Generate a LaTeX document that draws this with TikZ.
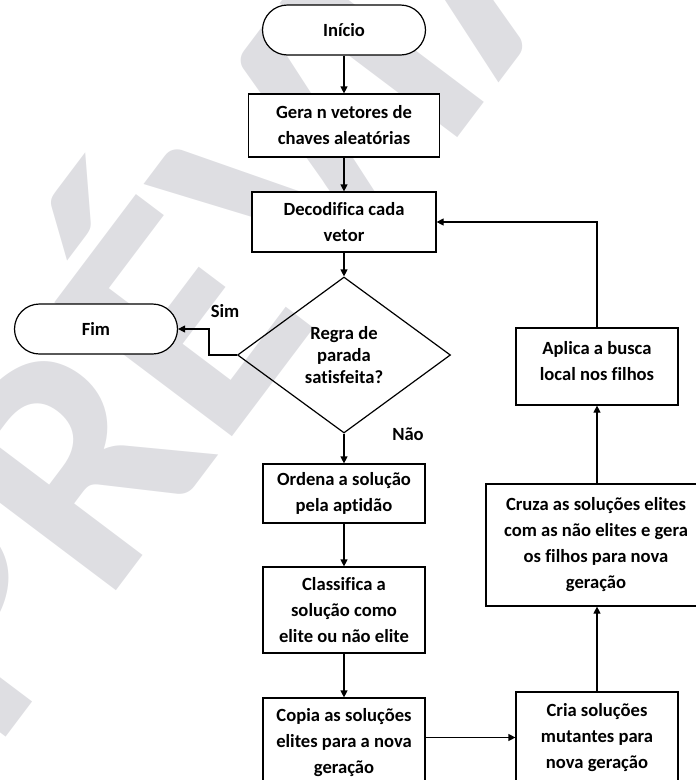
\documentclass[tikz,border=0pt]{standalone}
\usepackage{fontspec}
\setmainfont{Carlito}[Ligatures=NoCommon]
\usepackage{tikz}
\usetikzlibrary{arrows.meta,positioning,shapes.geometric}
\definecolor{marcagua}{RGB}{222,222,226}
\tikzset{font=\bfseries\fontsize{18.6}{26}\selectfont}
\tikzstyle{caixa}=[draw,rectangle,align=center,inner sep=0pt,fill=white]
\tikzstyle{term}=[draw,rectangle,rounded corners=25pt,minimum width=163pt,minimum height=50pt,fill=white]
\tikzstyle{decisao}=[draw,diamond,aspect=1.365,align=center,inner sep=0pt,minimum width=213pt,minimum height=156pt,font=\bfseries\fontsize{18.6}{22}\selectfont]
\tikzstyle{marca}=[rotate=53,anchor=base west,inner sep=0pt,text=marcagua,font=\bfseries\fontsize{343}{343}\selectfont]
\begin{document}
\begin{tikzpicture}[x=1pt,y=-1pt,line width=1.2pt,>={Triangle[length=7pt,width=7pt]}]
\useasboundingbox (0,0) rectangle (696,780);
\clip (0,0) rectangle (696,780);
% marca d'agua
\node[marca] (wm) at (-6,753) {PRÉVIA};
\node[term] (ini) at (344,30) {Início};
\node[caixa,minimum width=191pt,minimum height=63pt] (gera) at (344,125.5) {Gera n vetores de\\chaves aleatórias};
\node[caixa,minimum width=184pt,minimum height=60pt] (dec) at (344,222) {Decodifica cada\\vetor};
\node[decisao] (dia) at (344,355) {Regra de\\parada\\satisfeita?};
\node[term] (fim) at (96,329) {Fim};
\node[caixa,minimum width=162pt,minimum height=59pt] (ord) at (344,493.5) {Ordena a solução\\pela aptidão};
\node[caixa,minimum width=162pt,minimum height=86pt] (cla) at (344,610) {Classifica a\\solução como\\elite ou não elite};
\node[caixa,minimum width=162pt,minimum height=90pt] (cop) at (344,743) {Copia as soluções\\elites para a nova\\geração};
\node[caixa,minimum width=162pt,minimum height=91pt] (cria) at (597,737.5) {Cria soluções\\mutantes para\\nova geração};
\node[caixa,minimum width=220pt,minimum height=122pt] (cru) at (596,545) {Cruza as soluções elites\\com as não elites e gera\\os filhos para nova\\geração};
\node[caixa,minimum width=162pt,minimum height=77pt,text depth=12pt] (apl) at (597,366.5) {Aplica a busca\\local nos filhos};
\node (sim) at (225,311) {Sim};
\node (nao) at (408,434) {Não};
\path[->]
(ini) edge (gera)
(gera) edge (dec)
(dec) edge (dia)
(dia) edge (ord)
(ord) edge (cla)
(cla) edge (cop)
(apl.south |- cru.north) edge (apl.south);
\draw[->] (dia.west) -- ++(-28,0) |- (fim.east);
\draw[->] (cop.east |- cria.west) -- (cria.west);
\draw[->] (cria.north) -- (cria.north |- cru.south);
\draw[->] (apl.north) |- (dec.east);
\end{tikzpicture}
\end{document}
